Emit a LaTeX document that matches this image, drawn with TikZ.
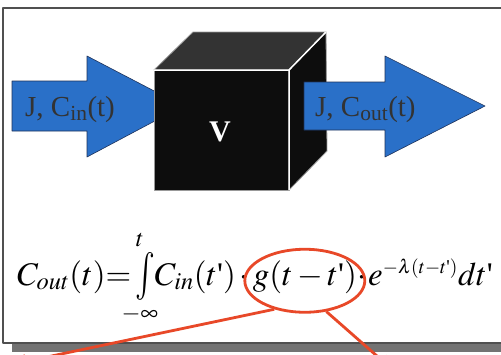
\documentclass[tikz,border=0pt]{standalone}
\usepackage{mathtools}
\usepackage{graphicx}
\usepackage{mathptmx}
\usepackage{fontspec}
\setmainfont{Liberation Serif}
\usetikzlibrary{arrows.meta,shapes.geometric}
\definecolor{flowblue}{RGB}{42,112,200}
\definecolor{flowline}{RGB}{30,50,90}
\definecolor{ringred}{RGB}{232,72,40}
\definecolor{framegray}{RGB}{80,80,80}
\definecolor{shadowgray}{RGB}{115,115,115}
\newcommand{\tq}{\text{\textquotesingle}}
\newcommand{\tallint}{\mathop{\vcenter{\hbox{\scalebox{1}[1.45]{$\int$}}}}\limits}

\begin{document}
\begin{tikzpicture}[x=1pt, y=-1pt, >={Triangle[length=14pt,width=14pt]}, line join=round,
    flow/.style={fill=flowblue, draw=flowline, line width=0.6pt},
    flowtext/.style={text=black!80, font=\fontsize{29}{30}\selectfont, anchor=base west, inner sep=0pt},
    eqtext/.style={anchor=base west, inner sep=0pt, font=\fontsize{33}{36}\selectfont},
    face/.style={draw=white!60!black, line width=0.8pt},
    ridge/.style={draw=white, line width=1.5pt},
    ring/.style={draw=ringred, line width=2.8pt}]
  \useasboundingbox (0,0) rectangle (501,354);
  \clip (0,0) rectangle (501,354);
  \fill[shadowgray] (12,343) rectangle (505,352);
  \draw[framegray, line width=1.5pt, fill=white] (3,8) rectangle (510,343);
  % incoming flow
  \draw[flow] (12,81) -- (87,81) -- (87,56) -- (183,106) -- (87,157) -- (87,131) -- (12,131) -- cycle;
  \node[flowtext] (jin) at (25,116) {J, C\textsubscript{in}(t)};
  % the volume
  \draw[face, fill=black!95] (154,70) rectangle (289,190);
  \draw[face, fill=black!80] (154,70) -- (193,32) -- (326,32) -- (289,70) -- cycle;
  \draw[face, fill=black!95] (289,70) -- (326,32) -- (327,151) -- (289,190) -- cycle;
  \draw[ridge] (154,70) -- (289,70) -- (326,32) (289,70) -- (289,190);
  \node[text=white, font=\fontsize{30}{30}\selectfont\bfseries] (vol) at (220,132) {V};
  % outgoing flow
  \draw[flow] (304,82) -- (385,82) -- (385,56) -- (485,106) -- (385,157) -- (385,130) -- (304,130) -- cycle;
  \node[flowtext] (jout) at (315,116) {J, C\textsubscript{out}(t)};
  % balance
  \node[eqtext] (lhs) at (17,285)
    {$C_{out}(t)\mathord{=}\tallint_{\mathclap{\kern-10pt-\infty}}^{\mathclap{\kern-10pt t}}\mkern-2mu C_{in}(t\tq)\mkern2mu\mathord{\cdot}\mkern2mu$};
  \node[eqtext, at={(lhs.base east)}] (gpart) {$g(t\mathbin{-}t\tq)$};
  \node[eqtext, at={(gpart.base east)}] (rhs)
    {$\mathord{\cdot}\mkern1mu e^{\scalebox{0.8}{$\scriptstyle-\lambda(t-t\tq)$}}dt\tq$};
  \node[ring, ellipse, minimum width=120pt, minimum height=63pt, inner sep=0pt, yshift=-4pt] (gring) at (gpart.center) {};
  \draw[ringred, line width=2.8pt, ->] (gring.223) -- +(-262,55);
  \draw[ringred, line width=2.8pt, ->] (gring.305) -- +(66,58);
\end{tikzpicture}
\end{document}
